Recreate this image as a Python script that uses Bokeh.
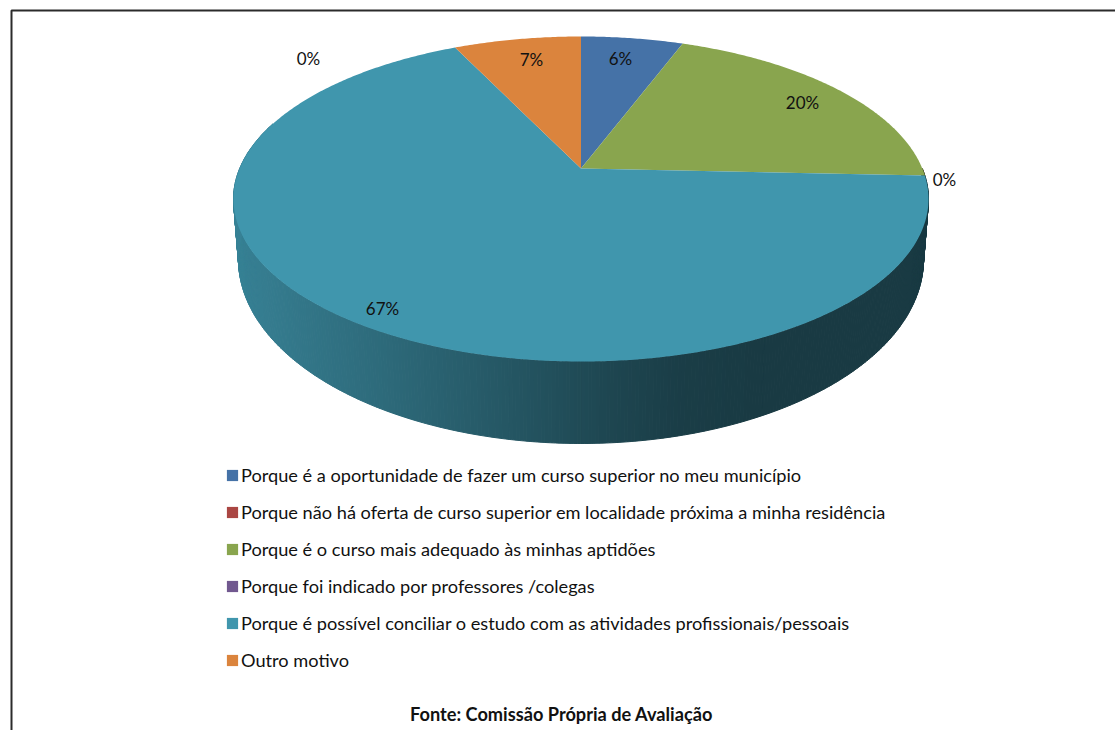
import numpy as np
from bokeh.embed import file_html
from bokeh.resources import INLINE
from bokeh.plotting import figure
from bokeh.models import Range1d, Legend, LegendItem
from bokeh.core.properties import value

categories = [
    "Porque é a oportunidade de fazer um curso superior no meu município",
    "Porque não há oferta de curso superior em localidade próxima a minha residência",
    "Porque é o curso mais adequado às minhas aptidões",
    "Porque foi indicado por professores /colegas",
    "Porque é possível conciliar o estudo com as atividades profissionais/pessoais",
    "Outro motivo",
]
values = [5.7, 0.0, 20.0, 0.0, 67.2, 7.1]
colors = ["#4572A7", "#AA4643", "#89A54E", "#71588F", "#4096AD", "#DB843D"]
label_texts = ["6%", "0%", "20%", "0%", "67%", "7%"]
label_x = [620, 308, 802, 944, 382, 531]
label_y = [58, 58, 102, 179, 308, 59]
footer = "Fonte: Comissão Própria de Avaliação"

FONT = "Lato"
K = 0.1877
TOP = dict(cx=580.5, cy=198.5, a=347.5, b=162.5)
BASE = dict(cx=580.5, cy=259.0, a=342.5, b=184.0)
shade_u = [-1.0, -0.81, -0.52, -0.23, 0.06, 0.23, 0.40, 1.0]
shade_f = [0.87, 0.82, 0.72, 0.60, 0.47, 0.41, 0.39, 0.39]


def project(theta, e, rho=1.0):
    u, v = rho * np.sin(theta), rho * np.cos(theta)
    w = 1 + K * v
    x = e["cx"] + e["a"] * np.sqrt(1 - K ** 2) * u / w
    y = e["cy"] - e["b"] * K - e["b"] * (1 - K ** 2) * v / w
    return x, y


def rgb(h):
    return np.array([int(h[i:i + 2], 16) for i in (1, 3, 5)], dtype=float)


p = figure(width=1115, height=730, x_range=Range1d(0, 1115), y_range=Range1d(730, 0),
           x_axis_type=None, y_axis_type=None, toolbar_location=None, output_backend="svg",
           min_border=0, outline_line_color=None, background_fill_color="white")
p.grid.visible = False

# frame
p.line([1115, 11, 11], [10, 10, 730], line_color="#2b2b2b", line_width=2)

edges = np.radians(np.concatenate([[0], np.cumsum(values)]) * 3.6)

# side wall
sx, sy, sc = [], [], []
for i, c in enumerate(colors):
    a0, a1 = edges[i], edges[i + 1]
    if a1 <= a0:
        continue
    lo, hi = max(a0, np.pi / 2), min(a1, 1.6 * np.pi)
    if hi <= lo:
        continue
    ts = np.arange(lo, hi + 1e-9, np.radians(0.5))
    for t0, t1 in zip(ts[:-1], ts[1:]):
        xa, ya = project(np.array([t0, t1]), TOP)
        xb, yb = project(np.array([t1, t0]), BASE)
        sx.append(list(xa) + list(xb))
        sy.append(list(ya) + list(yb))
        f = np.interp(np.sin((t0 + t1) / 2), shade_u, shade_f)
        v = rgb(c) * f
        sc.append("#%02x%02x%02x" % tuple(int(round(q)) for q in v))
p.patches(sx, sy, fill_color=sc, line_color=sc, line_width=1)

# top surface
tx, ty = [], []
for i in range(len(values)):
    n = max(2, int(np.degrees(edges[i + 1] - edges[i]) * 2))
    th = np.linspace(edges[i], edges[i + 1], n)
    x, y = project(th, TOP)
    ax, ay = project(np.array([0.0]), TOP, rho=0.0)
    tx.append(list(ax) + list(x))
    ty.append(list(ay) + list(y))
slices = p.patches(tx, ty, fill_color=colors, line_color=None)

# data labels
p.text(label_x, label_y, text=label_texts, text_font=value(FONT), text_font_size="17px",
       text_color="#111111", text_align="center", text_baseline="middle")

# legend
items = [LegendItem(label=c, renderers=[slices], index=i) for i, c in enumerate(categories)]
legend = Legend(items=items, location=(225, 59), orientation="vertical", padding=0, margin=0,
                spacing=15, label_height=20, glyph_height=14, glyph_width=14, label_standoff=2,
                border_line_color=None, background_fill_alpha=0,
                label_text_font=FONT, label_text_font_size="18.2px", label_text_color="#111111",
                label_text_baseline="middle")
p.add_layout(legend, "center")

# footer
p.text([561], [713], text=[footer], text_font=value(FONT), text_font_size="18.2px",
       text_font_style="bold", text_color="#111111", text_align="center", text_baseline="middle")

open("out.html", "w").write(file_html(p, INLINE))
